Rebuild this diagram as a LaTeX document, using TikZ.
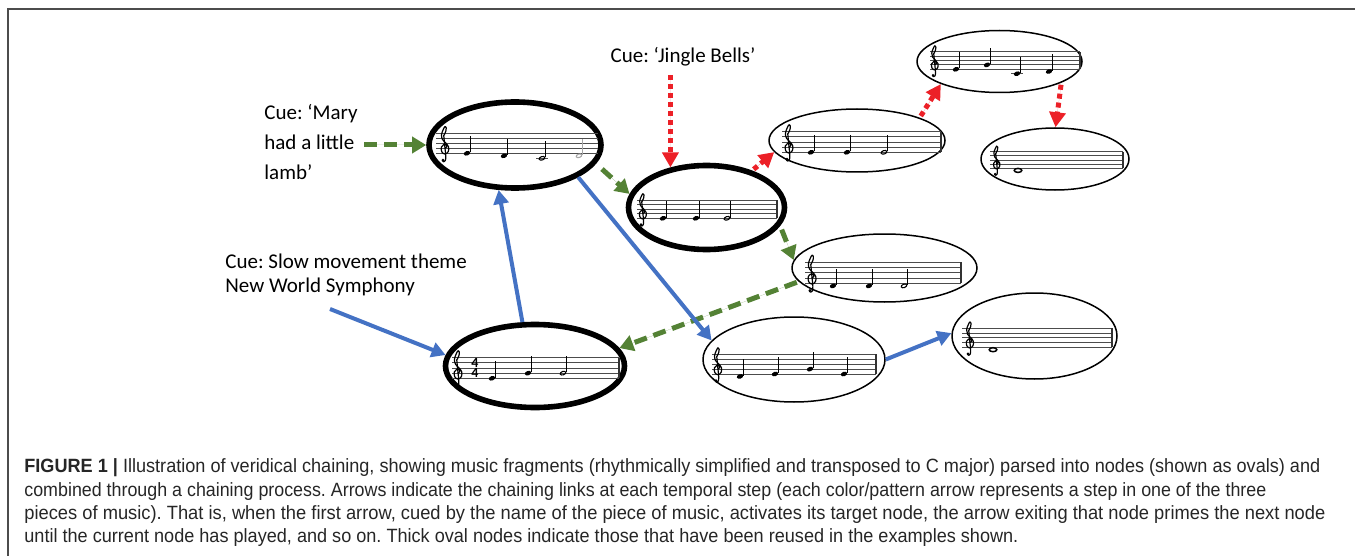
\documentclass[tikz,border=0pt]{standalone}
\usepackage{graphicx}
\usepackage{fontspec}
\setmainfont{Carlito}
\newfontfamily\capfont{Liberation Sans}
\usetikzlibrary{arrows.meta,shapes.geometric}
\frenchspacing
\definecolor{cgreen}{RGB}{84,130,53}
\definecolor{cred}{RGB}{236,32,39}
\definecolor{cblue}{RGB}{68,114,196}
\tikzset{
  oval/.style={ellipse, draw=black, line width=0.75pt, inner sep=0pt},
  thickoval/.style={oval, line width=2.8pt},
  staffline/.style={draw=black!70, line width=0.4pt},
  barline/.style={draw=black!80, line width=0.6pt},
  garrow/.style={draw=cgreen, fill=cgreen, line width=2.5pt, dash pattern=on 6.5pt off 3.5pt, -{Triangle[length=7pt,width=8pt]}},
  rarrow/.style={draw=cred, fill=cred, line width=2.5pt, dash pattern=on 2.5pt off 2pt, -{Triangle[length=7.5pt,width=8pt]}},
  barrow/.style={draw=cblue, fill=cblue, line width=2pt, -{Triangle[length=7pt,width=7.5pt]}},
  cue/.style={align=left, inner sep=1pt},
  capline/.style={anchor=base west, inner sep=0pt, text=black!85, font=\capfont\fontsize{9.6}{11}\selectfont},
  tsig/.style={inner sep=0pt, align=center, font=\fontsize{7}{5.15}\selectfont\bfseries},
  pics/qnote/.style={code={
    \fill[rotate=20] (0,0) ellipse [x radius=1.65pt, y radius=1.1pt];
    \draw[line width=0.45pt] (1.5pt,0.4pt) -- (1.5pt,8.5pt);
  }},
  pics/hnote/.style={code={
    \draw[line width=0.55pt, rotate=20] (0,0) ellipse [x radius=1.45pt, y radius=0.85pt];
    \draw[line width=0.45pt] (1.6pt,0.4pt) -- (1.6pt,8.5pt);
  }},
  pics/wnote/.style={code={
    \draw[line width=0.75pt] (0,0) ellipse [x radius=1.9pt, y radius=1.0pt];
  }},
  pics/tclef/.style={code={
    \begin{scope}[x=#1, y=#1, line width=0.6pt, line cap=round, line join=round]
      \draw plot[smooth, tension=0.6] coordinates {(0.30,1.05) (0.62,1.25) (0.50,1.70) (0.05,1.75) (-0.42,1.25) (-0.35,0.30) (0.30,-0.15) (0.95,0.35) (1.0,1.30) (0.45,2.05) (-0.20,2.75) (-0.40,3.70) (-0.05,4.75) (0.30,5.35) (0.55,5.05) (0.45,4.35) (0.05,3.55)};
      \draw plot[smooth, tension=0.6] coordinates {(0.05,3.55) (0.25,1.5) (0.45,-0.6) (0.35,-1.45) (0.05,-1.7) (-0.25,-1.45)};
      \fill (-0.1,-1.35) circle [radius=0.3];
    \end{scope}
  }}
}
% x0, x1, ybottom, spacing(px), barline(1/0)
\newcommand{\mstaff}[5]{%
  \foreach \k in {0,...,4} {\draw[staffline] (#1,{#3-\k*#4}) -- (#2,{#3-\k*#4});}
  \ifnum#5=1 \draw[barline] (#2,#3) -- (#2,{#3-4*#4});\fi
}
\newcommand{\ledger}[2]{\draw[staffline] ({#1-6},#2) -- ({#1+6},#2);}
\begin{document}
\begin{tikzpicture}[x=0.5pt, y=-0.5pt]
\path[use as bounding box] (0,0) rectangle (1355,556);
% frame
\draw[black!70, line width=0.75pt] (8,556) -- (8,9) -- (1355,9);

% ovals
\node[thickoval, minimum width=86pt, minimum height=43pt] (A) at (515,145) {};
\node[thickoval, minimum width=78pt, minimum height=42pt] (B) at (706.5,207.5) {};
\node[oval, minimum width=88pt, minimum height=31.5pt] (C) at (857,140.5) {};
\node[oval, minimum width=82.5pt, minimum height=31pt] (D) at (999.5,61.5) {};
\node[oval, minimum width=74pt, minimum height=31pt] (E) at (1055,159) {};
\node[oval, minimum width=92.5pt, minimum height=34pt] (F) at (884.5,268) {};
\node[thickoval, minimum width=89.5pt, minimum height=41.5pt] (G) at (535,366) {};
\node[oval, minimum width=91pt, minimum height=42.5pt] (H) at (794,359.5) {};
\node[oval, minimum width=82.5pt, minimum height=43pt] (I) at (1034.5,336) {};

% music A
\mstaff{436}{598}{153.3}{5}{0}
\pic at (443.5,153.3) {tclef=2.5pt};
\pic at (467,153.3) {qnote};
\pic at (504,155.8) {qnote};
\ledger{542}{158.3}
\pic at (542,158.3) {hnote};
\pic[color=black!35] at (579,155.8) {hnote};
% music B
\mstaff{637}{777}{218.3}{4.6}{1}
\pic at (641.5,218.3) {tclef=2.3pt};
\pic at (663,218.3) {qnote};
\pic at (696,218.3) {qnote};
\pic at (727,218.3) {hnote};
% music C
\mstaff{782}{941}{152.3}{5.15}{1}
\pic at (787.5,152.3) {tclef=2.575pt};
\pic at (811,152.3) {qnote};
\pic at (847,152.3) {qnote};
\pic at (884,152.3) {hnote};
% music D
\mstaff{930}{1080}{69.3}{4.4}{1}
\pic at (933.5,69.3) {tclef=2.2pt};
\pic at (956,69.3) {qnote};
\pic at (987,64.9) {qnote};
\ledger{1017}{73.7}
\pic at (1017,73.7) {qnote};
\pic at (1049,71.5) {qnote};
% music E
\mstaff{990}{1123}{168.3}{4.15}{1}
\pic at (995.5,168.3) {tclef=2.075pt};
\pic at (1018,170.4) {wnote};
% music F
\mstaff{805}{961}{283.3}{5.25}{1}
\pic at (810.5,283.3) {tclef=2.625pt};
\pic at (833,285.9) {qnote};
\pic at (869,285.9) {qnote};
\pic at (904,285.9) {hnote};
% music G
\mstaff{452}{619}{378.3}{5.15}{1}
\pic at (456.5,378.3) {tclef=2.575pt};
\node[tsig] (ts) at (475,368) {4\\4};
\pic at (492,378.3) {qnote};
\pic at (528,373.15) {qnote};
\pic at (563,373.15) {hnote};
% music H
\mstaff{712}{876}{374}{4.9}{1}
\pic at (716.5,374) {tclef=2.45pt};
\pic at (740,376.45) {qnote};
\pic at (775,374) {qnote};
\pic at (810,369.1) {qnote};
\pic at (844,374) {qnote};
% music I
\mstaff{962}{1112}{347.3}{4.75}{1}
\pic at (968.5,347.3) {tclef=2.375pt};
\pic at (993,349.7) {wnote};

% cue labels
\node[cue, anchor=west, font=\fontsize{10.5}{15}\selectfont] (mary) at (262,142) {Cue: ‘Mary\\had a little\\lamb’};
\node[cue, font=\fontsize{10.5}{12}\selectfont] (jb) at (683,57) {Cue: ‘Jingle Bells’};
\node[cue, anchor=west, font=\fontsize{10.5}{12}\selectfont] (nws) at (223,275) {Cue: Slow movement theme\\New World Symphony};
\coordinate (nwstart) at (330,309);

% green (Mary had a little lamb)
\draw[garrow, shorten <=2pt] (mary.east |- A.west) -- (A.west);
\draw[garrow, shorten <=4pt] (A.-13) -- (B.170);
\draw[garrow, shorten <=2pt] (B.-14) -- (F.175);
\draw[garrow, shorten <=1pt] (F.189) -- (G.12);
% red (Jingle Bells)
\draw[rarrow, shorten <=3pt] (jb.south -| B.132) -- (B.132);
\draw[rarrow, shorten <=1pt] (B.39) -- (C.188);
\draw[rarrow, shorten <=1pt] (C.20) -- (D.201);
\draw[rarrow, shorten <=1pt] (D.-19) -- (E.89);
% blue (New World Symphony)
\draw[barrow] (nwstart) -- (G.173.5);
\draw[barrow] (G.106) -- (A.250.5);
\draw[barrow] (A.-27) -- (H.167);
\draw[barrow] (H.0) -- (I.178);

% caption
\node[capline] (cap1) at (24,472) {\resizebox{648pt}{\height}{\textbf{FIGURE 1 |} Illustration of veridical chaining, showing music fragments (rhythmically simplified and transposed to C major) parsed into nodes (shown as ovals) and}};
\node[capline] (cap2) at (24,496) {\resizebox{621pt}{\height}{combined through a chaining process. Arrows indicate the chaining links at each temporal step (each color/pattern arrow represents a step in one of the three}};
\node[capline] (cap3) at (24,519) {\resizebox{650.5pt}{\height}{pieces of music). That is, when the first arrow, cued by the name of the piece of music, activates its target node, the arrow exiting that node primes the next node}};
\node[capline] (cap4) at (24,542) {\resizebox{497pt}{\height}{until the current node has played, and so on. Thick oval nodes indicate those that have been reused in the examples shown.}};
\end{tikzpicture}
\end{document}
